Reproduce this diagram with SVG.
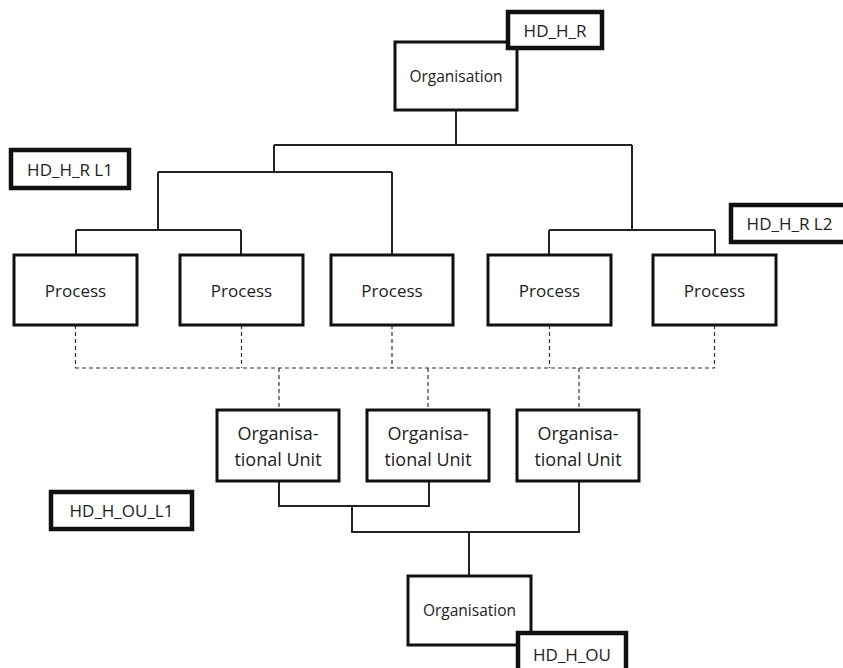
<svg xmlns="http://www.w3.org/2000/svg" width="843" height="668" viewBox="0 0 843 668">
<style>
.node rect{fill:#fff;stroke:#111;stroke-width:3}
.tag rect{fill:#fff;stroke:#111;stroke-width:4.5}
text{font-family:"Open Sans","Liberation Sans",sans-serif;fill:#222;text-anchor:middle;dominant-baseline:central}
.p{font-size:17px}
.o{font-size:15.5px}
.u{font-size:18px}
.t{font-size:17px}
.solid path{fill:none;stroke:#222;stroke-width:2}
.dash path{fill:none;stroke:#333;stroke-width:1.2;stroke-dasharray:4 3}
</style>
<rect width="843" height="668" fill="#fff"/>
<g id="connectors">
<g class="solid">
<path d="M456 110V145M274 145H632M274 145V172M158 172H392M158 172V230M76 230H241M76 230V255M241 230V255M392 172V255M632 145V230M549 230H715M549 230V255M715 230V255"/>
<path d="M279 481V506H429V481M352 506V532H579V481M469 532V576"/>
</g>
<g class="dash">
<path d="M75.5 325V368M241.5 325V368M392 325V368M549.5 325V368M714.5 325V368M75 368H715M279 368V410M428 368V410M579 368V410"/>
</g>
</g>
<g id="org-top" class="node"><rect x="395" y="42" width="122" height="68"/><text class="o" x="456" y="76">Organisation</text></g>
<g id="tag-hdhr" class="tag"><rect x="508" y="12" width="94" height="36"/><text class="t" x="555" y="30">HD_H_R</text></g>
<g id="tag-l1" class="tag"><rect x="11" y="150" width="118" height="38"/><text class="t" x="70" y="169">HD_H_R L1</text></g>
<g id="tag-l2" class="tag"><rect x="731" y="205" width="117" height="37"/><text class="t" x="789.5" y="223.5">HD_H_R L2</text></g>
<g id="process-1" class="node"><rect x="14" y="255" width="123" height="70"/><text class="p" x="75.5" y="290">Process</text></g>
<g id="process-2" class="node"><rect x="180" y="255" width="123" height="70"/><text class="p" x="241.5" y="290">Process</text></g>
<g id="process-3" class="node"><rect x="331" y="255" width="122" height="70"/><text class="p" x="392" y="290">Process</text></g>
<g id="process-4" class="node"><rect x="488" y="255" width="123" height="70"/><text class="p" x="549.5" y="290">Process</text></g>
<g id="process-5" class="node"><rect x="653" y="255" width="123" height="70"/><text class="p" x="714.5" y="290">Process</text></g>
<g id="ou-1" class="node"><rect x="217" y="410" width="122" height="71"/><text class="u" x="278" y="433">Organisa-</text><text class="u" x="278" y="459">tional Unit</text></g>
<g id="ou-2" class="node"><rect x="367" y="410" width="122" height="71"/><text class="u" x="428" y="433">Organisa-</text><text class="u" x="428" y="459">tional Unit</text></g>
<g id="ou-3" class="node"><rect x="517" y="410" width="122" height="71"/><text class="u" x="578" y="433">Organisa-</text><text class="u" x="578" y="459">tional Unit</text></g>
<g id="tag-ou-l1" class="tag"><rect x="51" y="492" width="141" height="37"/><text class="t" x="121.5" y="510.5">HD_H_OU_L1</text></g>
<g id="org-bottom" class="node"><rect x="408" y="576" width="123" height="69"/><text class="o" x="469.5" y="610">Organisation</text></g>
<g id="tag-hdhou" class="tag"><rect x="518" y="633" width="108" height="45"/><text class="t" x="572" y="654">HD_H_OU</text></g>
</svg>
